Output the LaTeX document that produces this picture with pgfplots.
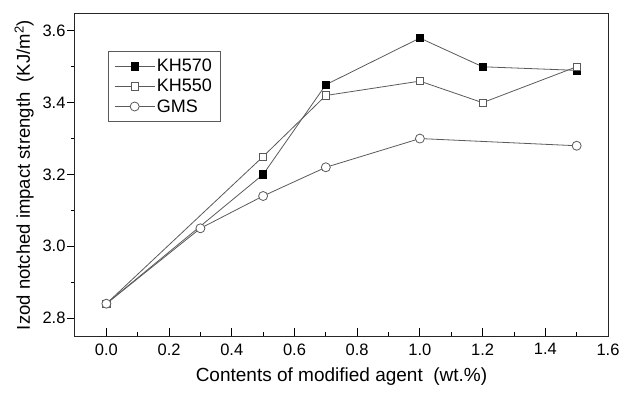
\documentclass[border=0pt]{standalone}
\usepackage{pgfplots}
\pgfplotsset{compat=1.18}
\usepackage{fontspec}
\setmainfont{Liberation Sans}
\definecolor{ln}{HTML}{5A5A5A}
\begin{document}
\begin{tikzpicture}
\begin{axis}[
  scale only axis,
  width=533pt, height=322pt,
  xmin=-0.1, xmax=1.6, ymin=2.75, ymax=3.647,
  xtick={0,0.2,...,1.6}, minor x tick num=1,
  ytick={2.8,3.0,3.2,3.4,3.6}, minor y tick num=1,
  x tick style={black, line width=0.8pt},
  y tick style={black, line width=0.8pt},
  xtick align=inside, ytick align=outside,
  major tick length=8pt, minor tick length=4pt,
  xtick pos=bottom, ytick pos=left,
  axis line style={line width=1pt, black!85},
  /pgf/number format/assume math mode=true,
  /pgf/number format/fixed, /pgf/number format/fixed zerofill, /pgf/number format/precision=1,
  tick label style={font=\fontsize{16.5}{18}\selectfont},
  xticklabel style={yshift=-4pt},
  yticklabel style={xshift=2pt},
  xlabel={Contents of modified agent\ \ (wt.\%)},
  ylabel={Izod notched impact strength\ \ (KJ/m\textsuperscript{2})},
  xlabel style={font=\fontsize{19}{21}\selectfont, yshift=-6pt},
  ylabel style={font=\fontsize{18.5}{21}\selectfont, yshift=2pt},
  legend style={at={(0.062,0.885)}, anchor=north west, draw=ln, line width=0.6pt,
     font=\fontsize{18}{20}\selectfont, inner xsep=6pt, inner ysep=6pt, row sep=2pt},
  legend cell align=left,
  legend image code/.code={\draw[mark repeat=2,mark phase=2] plot coordinates {(0cm,0cm) (0.7cm,0cm) (1.4cm,0cm)};},
]
\addplot[ln, line width=0.8pt, mark=square*, mark size=3.6pt, mark options={fill=black, draw=black}]
  coordinates {(0,2.84) (0.5,3.20) (0.7,3.45) (1.0,3.58) (1.2,3.50) (1.5,3.49)};
\addlegendentry{KH570}
\addplot[ln, line width=0.8pt, mark=square*, mark size=3.6pt, mark options={fill=white, draw=ln}]
  coordinates {(0,2.84) (0.5,3.25) (0.7,3.42) (1.0,3.46) (1.2,3.40) (1.5,3.50)};
\addlegendentry{KH550}
\addplot[ln, line width=0.8pt, mark=*, mark size=4.5pt, mark options={fill=white, draw=ln}]
  coordinates {(0,2.84) (0.3,3.05) (0.5,3.14) (0.7,3.22) (1.0,3.30) (1.5,3.28)};
\addlegendentry{GMS}
\end{axis}
\pgfresetboundingbox
\path ([xshift=-75pt,yshift=-56pt]current axis.south west) rectangle ([xshift=14pt,yshift=14pt]current axis.north east);
\end{tikzpicture}
\end{document}
